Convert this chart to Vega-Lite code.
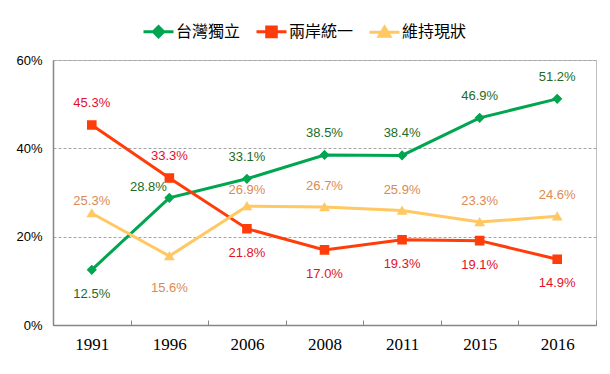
{
  "$schema": "https://vega.github.io/schema/vega-lite/v6.json",
  "width": 543,
  "height": 265,
  "autosize": "none",
  "padding": {"left": 53, "top": 60, "right": 14, "bottom": 49},
  "background": "white",
  "config": {
    "view": {"stroke": "#c0c0c0", "strokeWidth": 1},
    "font": "Liberation Sans"
  },
  "data": {
    "values": [
      {"year": "1991", "series": "台灣獨立", "value": 12.5},
      {"year": "1996", "series": "台灣獨立", "value": 28.8},
      {"year": "2006", "series": "台灣獨立", "value": 33.1},
      {"year": "2008", "series": "台灣獨立", "value": 38.5},
      {"year": "2011", "series": "台灣獨立", "value": 38.4},
      {"year": "2015", "series": "台灣獨立", "value": 46.9},
      {"year": "2016", "series": "台灣獨立", "value": 51.2},
      {"year": "1991", "series": "兩岸統一", "value": 45.3},
      {"year": "1996", "series": "兩岸統一", "value": 33.3},
      {"year": "2006", "series": "兩岸統一", "value": 21.8},
      {"year": "2008", "series": "兩岸統一", "value": 17.0},
      {"year": "2011", "series": "兩岸統一", "value": 19.3},
      {"year": "2015", "series": "兩岸統一", "value": 19.1},
      {"year": "2016", "series": "兩岸統一", "value": 14.9},
      {"year": "1991", "series": "維持現狀", "value": 25.3},
      {"year": "1996", "series": "維持現狀", "value": 15.6},
      {"year": "2006", "series": "維持現狀", "value": 26.9},
      {"year": "2008", "series": "維持現狀", "value": 26.7},
      {"year": "2011", "series": "維持現狀", "value": 25.9},
      {"year": "2015", "series": "維持現狀", "value": 23.3},
      {"year": "2016", "series": "維持現狀", "value": 24.6}
    ]
  },
  "transform": [{"calculate": "format(datum.value, '.1f') + '%'", "as": "label"}],
  "encoding": {
    "x": {
      "field": "year",
      "type": "ordinal",
      "scale": {"type": "band", "paddingInner": 0, "paddingOuter": 0},
      "axis": {
        "title": null,
        "labelAngle": 0,
        "labelFont": "Liberation Serif",
        "labelFontSize": 17,
        "labelColor": "#000000",
        "tickBand": "extent",
        "tickSize": -5,
        "tickColor": "#868686",
        "domainColor": "#868686",
        "domainWidth": 1.5,
        "labelPadding": 16
      }
    },
    "y": {
      "field": "value",
      "type": "quantitative",
      "scale": {"domain": [0, 60]},
      "axis": {
        "title": null,
        "values": [0, 20, 40, 60],
        "labelExpr": "datum.value + '%'",
        "labelFontSize": 13,
        "labelColor": "#000000",
        "ticks": false,
        "labelPadding": 11,
        "domainColor": "#868686",
        "domainWidth": 1.5,
        "gridColor": "#a6a6a6",
        "gridDash": [3, 2]
      }
    }
  },
  "layer": [
    {
      "mark": {"type": "line", "strokeWidth": 3},
      "encoding": {
        "color": {
          "field": "series",
          "type": "nominal",
          "scale": {"domain": ["台灣獨立", "兩岸統一", "維持現狀"], "range": ["#00a550", "#ff3d0a", "#ffc862"]}
        }
      }
    },
    {
      "mark": {"type": "point", "filled": true, "opacity": 1, "size": 900, "strokeWidth": 0},
      "encoding": {
        "color": {
          "field": "series",
          "type": "nominal",
          "scale": {"domain": ["台灣獨立", "兩岸統一", "維持現狀"], "range": ["#00a550", "#ff3d0a", "#ffc862"]},
          "legend": {
            "title": null,
            "orient": "none",
            "legendX": 89,
            "legendY": -45,
            "direction": "horizontal",
            "labelFont": "Noto Sans CJK TC",
            "labelFontSize": 16,
            "labelColor": "#000000",
            "labelOffset": 1,
            "columnPadding": 9,
            "symbolSize": 900,
            "symbolOpacity": 1,
            "encode": {"symbols": {"update": {"stroke": {"scale": "color", "field": "value"}, "strokeWidth": {"value": 3}}}}
          }
        },
        "shape": {
          "field": "series",
          "type": "nominal",
          "scale": {
            "domain": ["台灣獨立", "兩岸統一", "維持現狀"],
            "range": [
              "M-1,0H1M0,-0.34L0.34,0L0,0.34L-0.34,0Z",
              "M-1,0H1M-0.32,-0.32H0.32V0.32H-0.32Z",
              "M-1,0H1M0,-0.34L0.36,0.27H-0.36Z"
            ]
          },
          "legend": {
            "title": null,
            "orient": "none",
            "legendX": 89,
            "legendY": -45,
            "direction": "horizontal",
            "labelFont": "Noto Sans CJK TC",
            "labelFontSize": 16,
            "labelColor": "#000000",
            "labelOffset": 1,
            "columnPadding": 9,
            "symbolSize": 900,
            "symbolOpacity": 1
          }
        }
      }
    },
    {
      "transform": [{"filter": "datum.series == '台灣獨立' && datum.year != '1991' && datum.year != '1996'"}],
      "mark": {"type": "text", "fontSize": 13, "color": "#1e6b23", "dy": -22},
      "encoding": {"text": {"field": "label", "type": "nominal"}}
    },
    {
      "transform": [{"filter": "datum.series == '台灣獨立' && datum.year == '1991'"}],
      "mark": {"type": "text", "fontSize": 13, "color": "#1e6b23", "dy": 24},
      "encoding": {"text": {"field": "label", "type": "nominal"}}
    },
    {
      "transform": [{"filter": "datum.series == '台灣獨立' && datum.year == '1996'"}],
      "mark": {"type": "text", "fontSize": 13, "color": "#1e6b23", "dy": -11, "dx": -21},
      "encoding": {"text": {"field": "label", "type": "nominal"}}
    },
    {
      "transform": [{"filter": "datum.series == '兩岸統一' && (datum.year == '1991' || datum.year == '1996')"}],
      "mark": {"type": "text", "fontSize": 13, "color": "#e3102a", "dy": -22},
      "encoding": {"text": {"field": "label", "type": "nominal"}}
    },
    {
      "transform": [{"filter": "datum.series == '兩岸統一' && datum.year != '1991' && datum.year != '1996'"}],
      "mark": {"type": "text", "fontSize": 13, "color": "#e3102a", "dy": 24},
      "encoding": {"text": {"field": "label", "type": "nominal"}}
    },
    {
      "transform": [{"filter": "datum.series == '維持現狀' && datum.year >= '2008'"}],
      "mark": {"type": "text", "fontSize": 13, "color": "#dc8a52", "dy": -21},
      "encoding": {"text": {"field": "label", "type": "nominal"}}
    },
    {
      "transform": [{"filter": "datum.series == '維持現狀' && datum.year == '1991'"}],
      "mark": {"type": "text", "fontSize": 13, "color": "#dc8a52", "dy": -12},
      "encoding": {"text": {"field": "label", "type": "nominal"}}
    },
    {
      "transform": [{"filter": "datum.series == '維持現狀' && datum.year == '2006'"}],
      "mark": {"type": "text", "fontSize": 13, "color": "#dc8a52", "dy": -16},
      "encoding": {"text": {"field": "label", "type": "nominal"}}
    },
    {
      "transform": [{"filter": "datum.series == '維持現狀' && datum.year == '1996'"}],
      "mark": {"type": "text", "fontSize": 13, "color": "#dc8a52", "dy": 32},
      "encoding": {"text": {"field": "label", "type": "nominal"}}
    }
  ]
}
